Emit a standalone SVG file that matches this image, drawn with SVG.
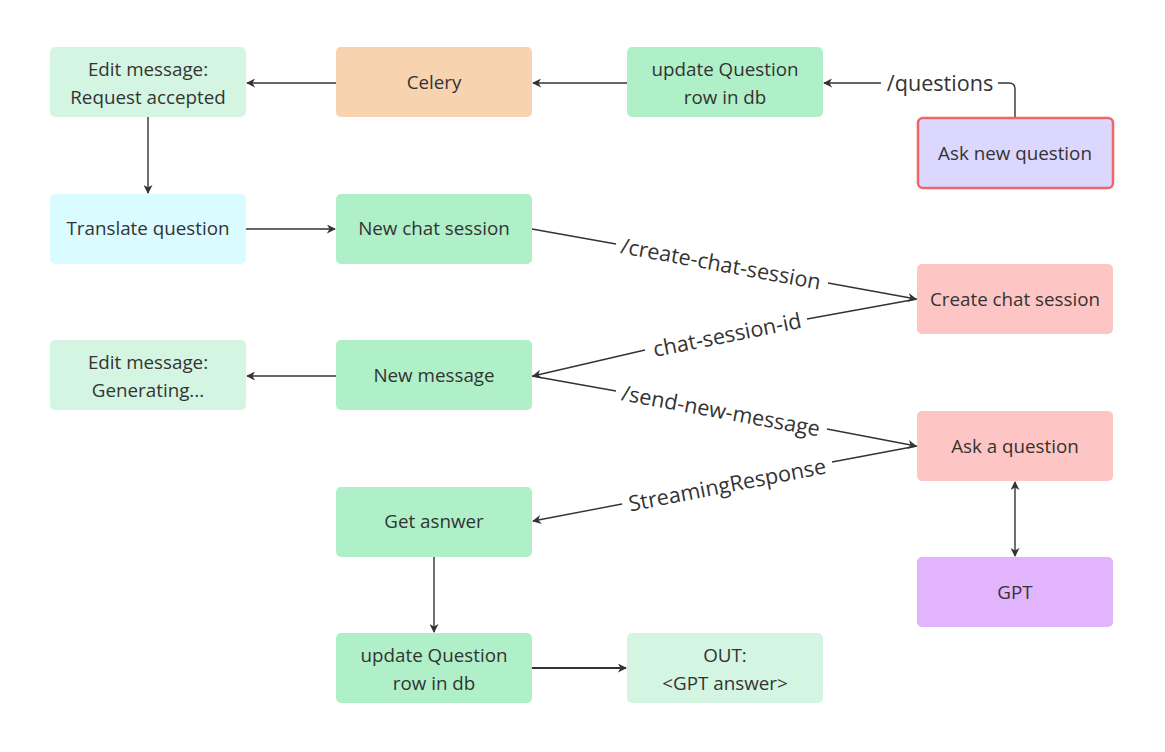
<svg xmlns="http://www.w3.org/2000/svg" width="1165" height="752" viewBox="0 0 1165 752">
<style>
.n{stroke:none}
.t{font-family:"Open Sans","Noto Sans","DejaVu Sans",sans-serif;font-size:18.8px;fill:#333;text-anchor:middle;dominant-baseline:central}
.l{font-family:"Open Sans","Noto Sans","DejaVu Sans",sans-serif;font-size:21.6px;fill:#333;text-anchor:middle;dominant-baseline:central}
.c{fill:none;stroke:#333;stroke-width:1.4}
</style>
<defs>
<marker id="a" viewBox="0 0 10 10" refX="9" refY="5" markerWidth="9" markerHeight="9" markerUnits="userSpaceOnUse" orient="auto-start-reverse">
<path d="M0,0 L10,5 L0,10 L3,5 Z" fill="#333"/>
</marker>
</defs>
<rect width="1165" height="752" fill="#fff"/>
<g id="connectors">
<line class="c" x1="336" y1="83" x2="247" y2="83" marker-end="url(#a)"/>
<line class="c" x1="627" y1="83" x2="533" y2="83" marker-end="url(#a)"/>
<path class="c" d="M1015,117 V89 Q1015,83 1009,83 H998 M881,83 H824" marker-end="url(#a)"/>
<text class="l" x="940" y="82">/questions</text>
<line class="c" x1="148" y1="117" x2="148" y2="193" marker-end="url(#a)"/>
<line class="c" x1="246" y1="229" x2="335" y2="229" marker-end="url(#a)"/>
<path class="c" d="M532,229 L616,244 M828,283 L916,299" marker-end="url(#a)"/>
<text class="l" transform="translate(721,263) rotate(10.4)">/create-chat-session</text>
<path class="c" d="M917,299 L807,319 M645,350 L533,376" marker-end="url(#a)"/>
<text class="l" transform="translate(727,334) rotate(-11.3)">chat-session-id</text>
<line class="c" x1="336" y1="376" x2="247" y2="376" marker-end="url(#a)"/>
<path class="c" d="M532,376 L616,391 M827,429 L916,446" marker-end="url(#a)"/>
<text class="l" transform="translate(721,410) rotate(10.4)">/send-new-message</text>
<path class="c" d="M917,446 L832,462 M622,504 L533,521" marker-end="url(#a)"/>
<text class="l" transform="translate(727,484) rotate(-11)">StreamingResponse</text>
<line class="c" x1="434" y1="557" x2="434" y2="632" marker-end="url(#a)"/>
<line class="c" x1="532" y1="668" x2="626" y2="668" marker-end="url(#a)" style="stroke-width:2"/>
<line class="c" x1="1015" y1="482" x2="1015" y2="556" marker-start="url(#a)" marker-end="url(#a)"/>
</g>
<g id="edit1"><rect x="50" y="47" width="196" height="70" rx="5" fill="#d4f5e2"/><text class="t" x="148" y="69">Edit message:</text><text class="t" x="148" y="97">Request accepted</text></g>
<g id="celery"><rect x="336" y="47" width="196" height="70" rx="5" fill="#f7d3b0"/><text class="t" x="434" y="82">Celery</text></g>
<g id="update1"><rect x="627" y="47" width="196" height="70" rx="5" fill="#aff0c8"/><text class="t" x="725" y="69">update Question</text><text class="t" x="725" y="97">row in db</text></g>
<g id="ask"><rect x="918" y="118" width="195" height="70" rx="5" fill="#dcd7fe" stroke="#f06666" stroke-width="2.5"/><text class="t" x="1015" y="153">Ask new question</text></g>
<g id="translate"><rect x="50" y="194" width="196" height="70" rx="5" fill="#dafbff"/><text class="t" x="148" y="228">Translate question</text></g>
<g id="newchat"><rect x="336" y="194" width="196" height="70" rx="5" fill="#aff0c8"/><text class="t" x="434" y="228">New chat session</text></g>
<g id="createchat"><rect x="917" y="264" width="196" height="70" rx="5" fill="#fec5c5"/><text class="t" x="1015" y="299">Create chat session</text></g>
<g id="edit2"><rect x="50" y="340" width="196" height="70" rx="5" fill="#d4f5e2"/><text class="t" x="148" y="362">Edit message:</text><text class="t" x="148" y="390">Generating...</text></g>
<g id="newmsg"><rect x="336" y="340" width="196" height="70" rx="5" fill="#aff0c8"/><text class="t" x="434" y="375">New message</text></g>
<g id="askq"><rect x="917" y="411" width="196" height="70" rx="5" fill="#fec5c5"/><text class="t" x="1015" y="446">Ask a question</text></g>
<g id="getanswer"><rect x="336" y="487" width="196" height="70" rx="5" fill="#aff0c8"/><text class="t" x="434" y="521">Get asnwer</text></g>
<g id="gpt"><rect x="917" y="557" width="196" height="70" rx="5" fill="#e2b4fe"/><text class="t" x="1015" y="592">GPT</text></g>
<g id="update2"><rect x="336" y="633" width="196" height="70" rx="5" fill="#aff0c8"/><text class="t" x="434" y="655">update Question</text><text class="t" x="434" y="683">row in db</text></g>
<g id="out"><rect x="627" y="633" width="196" height="70" rx="5" fill="#d4f5e2"/><text class="t" x="725" y="655">OUT:</text><text class="t" x="725" y="683">&lt;GPT answer&gt;</text></g>
</svg>
